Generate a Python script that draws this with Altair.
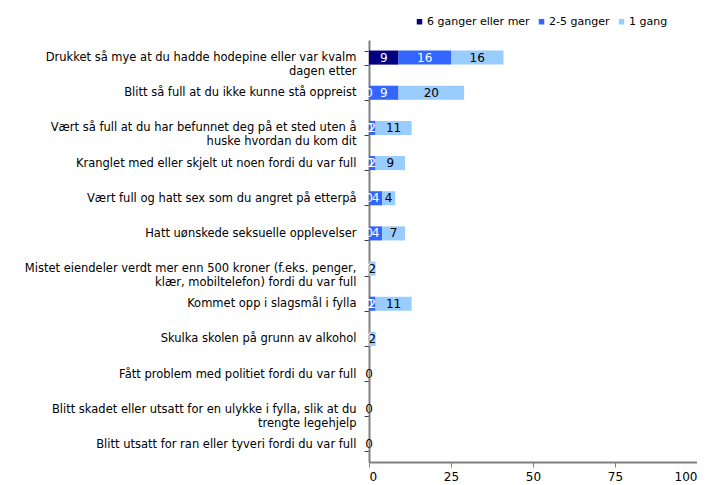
import altair as alt
import pandas as pd

categories = [
    "Drukket så mye at du hadde hodepine eller var kvalm\ndagen etter",
    "Blitt så full at du ikke kunne stå oppreist",
    "Vært så full at du har befunnet deg på et sted uten å\nhuske hvordan du kom dit",
    "Kranglet med eller skjelt ut noen fordi du var full",
    "Vært full og hatt sex som du angret på etterpå",
    "Hatt uønskede seksuelle opplevelser",
    "Mistet eiendeler verdt mer enn 500 kroner  (f.eks. penger,\nklær, mobiltelefon) fordi du var full",
    "Kommet opp i slagsmål i fylla",
    "Skulka skolen på grunn av alkohol",
    "Fått problem med politiet fordi du var full",
    "Blitt skadet eller utsatt for en ulykke i fylla, slik at du\ntrengte legehjelp",
    "Blitt utsatt for ran eller tyveri fordi du var full",
]
series = ["6 ganger eller mer", "2-5 ganger", "1 gang"]
colors = ["#000080", "#3366FF", "#99CCFF"]

v_6plus = [9, 0, 0, 0, 0, 0, 0, 0, 0, 0, 0, 0]
v_2to5 = [16, 9, 2, 2, 4, 4, 0, 2, 0, 0, 0, 0]
v_1 = [16, 20, 11, 9, 4, 7, 2, 11, 2, 0, 0, 0]

x_ticks = [0, 25, 50, 75, 100]

rows = []
for vals, s, o in zip([v_6plus, v_2to5, v_1], series, range(3)):
    for c, v in zip(categories, vals):
        rows.append({"cat": c, "series": s, "order": o, "value": v})
df = pd.DataFrame(rows)

FONT = "DejaVu Sans"

base = alt.Chart(df).transform_stack(
    stack="value", groupby=["cat"], as_=["x0", "x1"],
    sort=[alt.SortField("order", order="ascending")],
).transform_calculate(mid="(datum.x0 + datum.x1) / 2")

yenc = alt.Y(
    "cat:N", sort=categories, title=None,
    scale=alt.Scale(paddingInner=0.6, paddingOuter=0.3),
    axis=alt.Axis(
        labelExpr="split(datum.label, '\\n')",
        tickBand="extent", domainColor="#808080", domainWidth=2,
        tickColor="#404040", tickSize=5, labelPadding=8,
        labelFontSize=11.5, labelColor="#000000", labelFont=FONT,
        labelLimit=400, labelLineHeight=14,
    ),
)

xscale = alt.Scale(domain=[0, 100], nice=False)

bars = base.mark_bar().encode(
    y=yenc,
    x=alt.X("x0:Q", scale=xscale, title=None,
            axis=alt.Axis(values=x_ticks, grid=False, domainColor="#808080",
                          domainWidth=2, tickColor="#808080", tickSize=5,
                          labelFontSize=12, labelFont=FONT, labelColor="#000000",
                          labelPadding=4, labelFlush=True)),
    x2="x1:Q",
    color=alt.Color("series:N", sort=series,
                    scale=alt.Scale(domain=series, range=colors),
                    legend=alt.Legend(title=None, orient="none", direction="horizontal",
                                      legendX=45, legendY=-24, symbolType="square",
                                      symbolSize=30, labelFontSize=11, labelFont=FONT,
                                      labelColor="#000000", columnPadding=6,
                                      labelOffset=2, symbolStrokeWidth=0)),
    order=alt.Order("order:Q"),
)

labels = base.mark_text(fontSize=12, font=FONT, baseline="middle", align="center").encode(
    y=alt.Y("cat:N", sort=categories),
    x=alt.X("mid:Q", scale=xscale),
    text=alt.Text("value:Q"),
    color=alt.condition(alt.datum.series == "1 gang", alt.value("#000000"), alt.value("#ffffff")),
)

chart = alt.layer(bars, labels).properties(
    width=328, height=422,
    autosize=alt.AutoSizeParams(type="none"),
    padding={"left": 361, "top": 32, "right": 0, "bottom": 20},
).configure_view(stroke=None)

chart.save("out.html", embed_options={"renderer": "svg", "actions": False})
